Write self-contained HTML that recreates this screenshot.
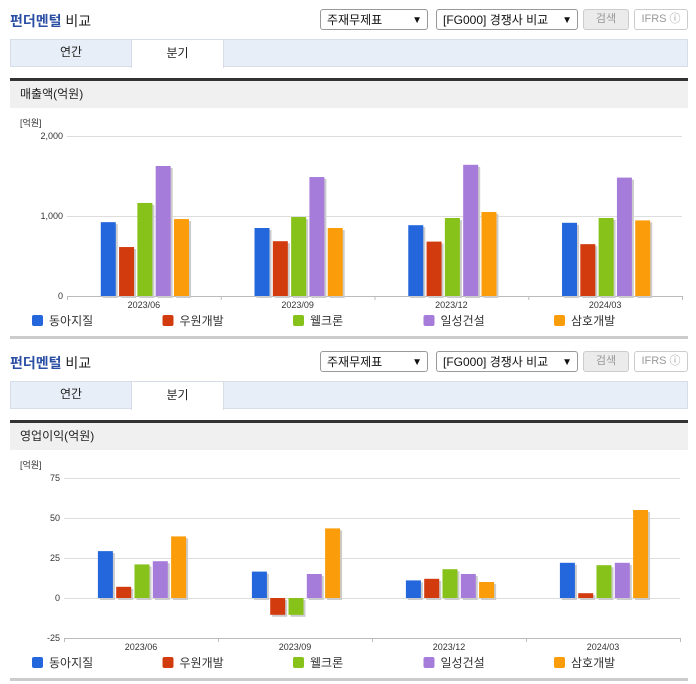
<!DOCTYPE html>
<html><head><meta charset="utf-8">
<style>
body{margin:0;width:696px;height:684px;background:#fff;font-family:"Liberation Sans","Noto Sans CJK KR",sans-serif;position:relative;overflow:hidden}
.a{position:absolute}
.title{font-size:14px;color:#222}
.title b{color:#2b4ea5;font-weight:bold}
.sel{border:1px solid #999;border-radius:3px;height:21px;font-size:12px;line-height:21px;padding-left:6px;box-sizing:border-box;color:#111;background:#fff}
.sel span{position:absolute;right:5px;top:0;font-size:10px}
.btn{border:1px solid #ccc;border-radius:3px;height:21px;font-size:11px;line-height:19px;text-align:center;box-sizing:border-box;color:#999}
.tabs{left:10px;width:678px;height:28px;background:#e8eef7;border:1px solid #d6dde8;box-sizing:border-box}
.tab{top:0;height:27px;line-height:27px;text-align:center;font-size:12px;color:#222}
.hdr{left:10px;width:668px;height:27px;background:#f0f0f0;border-top:3px solid #333;font-size:12px;line-height:27px;padding-left:10px;box-sizing:content-box;color:#222}
</style></head><body>
<div id="root"></div>
<script>
const categories=["2023/06","2023/09","2023/12","2024/03"];
const seriesNames=["동아지질","우원개발","웰크론","일성건설","삼호개발"];
const colors=["#2467dd","#d13b0e","#86c21a","#a67cdb","#fb9c0a"];
const sales1=[923,850,885,915];
const sales2=[612,685,680,648];
const sales3=[1163,987,975,975];
const sales4=[1625,1487,1640,1480];
const sales5=[962,850,1050,945];
const salesTicks=[0,1000,2000];
const salesTickLabels=["0","1,000","2,000"];
const op1=[29.3,16.5,11,22];
const op2=[7,-10.5,12,3];
const op3=[21,-10.5,18,20.5];
const op4=[23,15,15,22];
const op5=[38.5,43.5,10,55];
const opTicks=[-25,0,25,50,75];
const opTickLabels=["-25","0","25","50","75"];

const root=document.getElementById('root');
function div(cls,style,html,name,inter){
  const d=document.createElement('div');d.className='a '+cls;d.setAttribute('style',style);d.innerHTML=html;
  
  
  root.appendChild(d);return d;
}
function section(off,hdrText,series,ticks,tickLabels,ymin,ymax,yTop,yBot,xL,xR,chartName){
  div('title','left:10px;top:'+(off+11)+'px','<b>펀더멘털</b> 비교','section-title',false);
  div('sel','left:320px;top:'+(off+9)+'px;width:108px','주재무제표<span>&#9660;</span>','statement-select',true);
  div('sel','left:436px;top:'+(off+9)+'px;width:142px','[FG000] 경쟁사 비교<span>&#9660;</span>','compare-select',true);
  div('btn','left:583px;top:'+(off+9)+'px;width:46px;background:#ebebeb','검색','search-button',true);
  div('btn','left:634px;top:'+(off+9)+'px;width:54px','IFRS ⓘ','ifrs-help',true);
  div('tabs','top:'+(off+39)+'px','','tab-bar',false);
  div('tab','left:11px;top:'+(off+39)+'px;width:120px','연간','tab-annual',true);
  div('tab','left:131px;top:'+(off+40)+'px;width:91px;background:#fff;border-left:1px solid #d6dde8;border-right:1px solid #d6dde8;height:28px','분기','tab-quarter',true);
  div('hdr','top:'+(off+78)+'px',hdrText,'chart-header',false);
  div('','top:'+(off+336)+'px;height:3px;background:#ccc;left:10px;width:678px','','section-divider',false);
  const NS='http://www.w3.org/2000/svg';
  const svg=document.createElementNS(NS,'svg');
  svg.setAttribute('width','696');svg.setAttribute('height','230');
  svg.setAttribute('style','position:absolute;left:0;top:'+(off+108)+'px');
  
  
  root.appendChild(svg);
  const o=off+108;
  const y=v=>yBot-(v-ymin)/(ymax-ymin)*(yBot-yTop)-o;
  const gw=(xR-xL)/categories.length;
  function el(t,a,txt){const e=document.createElementNS(NS,t);for(const k in a)e.setAttribute(k,a[k]);if(txt!==undefined)e.textContent=txt;svg.appendChild(e);return e;}
  const u=el('text',{x:20,y:y(ymax)-10,'font-size':9,fill:'#333'},'[억원]');
  
  ticks.forEach((t,i)=>{
    const g=el('line',{x1:xL,x2:xR,y1:y(t)+.5,y2:y(t)+.5,stroke:'#ddd'});
    
    const l=el('text',{x:xL-4,y:y(t)+3,'font-size':9,'text-anchor':'end',fill:'#333'},tickLabels[i]);
    
  });
  const base=ymin<0?y(ymin):y(0);
  el('line',{x1:xL,x2:xR,y1:base+.5,y2:base+.5,stroke:'#bbb'});
  for(let i=0;i<=categories.length;i++){el('line',{x1:xL+i*gw+.5,x2:xL+i*gw+.5,y1:base,y2:base+4,stroke:'#bbb'});}
  categories.forEach((c,i)=>{
    const lab=el('text',{x:xL+(i+.5)*gw,y:base+12,'font-size':9,'text-anchor':'middle',fill:'#333'},c);
    
    const cx=xL+(i+.5)*gw+1, bw=15, step=18.3, start=cx-2*step-bw/2;
    series.forEach((s,j)=>{
      const v=s[i], y0=y(0), y1=y(v);
      const top=Math.min(y0,y1), h=Math.abs(y1-y0);
      el('rect',{x:start+j*step+2,y:top+2,width:bw,height:h,fill:'#ccc'});
      const r=el('rect',{x:start+j*step,y:top,width:bw,height:h,fill:colors[j]});
      
    });
  });
  seriesNames.forEach((n,j)=>{
    const lx=32+j*130.5, ly=base+19;
    const r=el('rect',{x:lx,y:ly,width:11,height:11,rx:2,fill:colors[j]});
    
    const t=el('text',{x:lx+17,y:ly+10,'font-size':12,fill:'#333'},n);
    
  });
}
section(0,'매출액(억원)',[sales1,sales2,sales3,sales4,sales5],salesTicks,salesTickLabels,0,2000,136,296,67,682,'sales-chart');
section(342,'영업이익(억원)',[op1,op2,op3,op4,op5],opTicks,opTickLabels,-25,75,478,638,64,680,'operating-profit-chart');
</script>
</body></html>
